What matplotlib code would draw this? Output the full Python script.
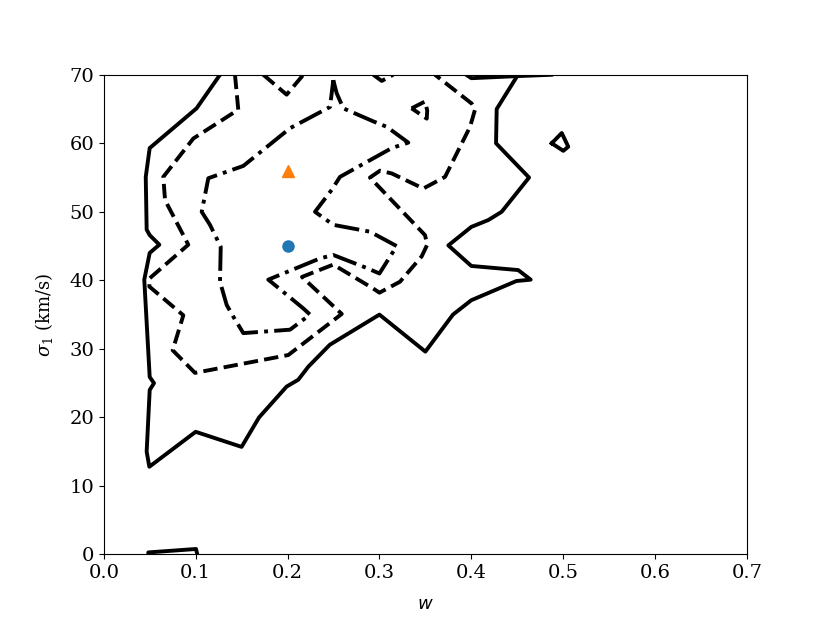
import matplotlib
matplotlib.use("Agg")
import matplotlib.pyplot as plt

plt.rcParams['font.family'] = ['DejaVu Serif']
plt.rcParams['mathtext.fontset'] = 'dejavuserif'
plt.rcParams['font.size'] = 14

# Contour level 1 (outer, solid)
outer_x = [0.1265, 0.101, 0.050, 0.0457, 0.0467, 0.050, 0.0605, 0.050, 0.0441, 0.050,
           0.0547, 0.050, 0.0467, 0.0496, 0.100, 0.150, 0.169, 0.199, 0.2117, 0.2226,
           0.246, 0.300, 0.350, 0.380, 0.400, 0.449, 0.4646, 0.451, 0.400, 0.375,
           0.400, 0.4185, 0.433, 0.4628, 0.4269, 0.4276, 0.4494]
outer_y = [70.0, 65.1, 59.3, 55.1, 47.4, 46.6, 45.2, 44.0, 40.1, 25.9,
           25.0, 24.0, 15.0, 12.8, 17.9, 15.7, 20.0, 24.5, 25.5, 27.4,
           30.6, 35.0, 29.6, 35.0, 37.1, 39.9, 40.1, 41.5, 42.1, 45.1,
           47.8, 48.8, 50.0, 55.0, 60.0, 65.0, 69.7]
outer_top_x = [0.3945, 0.400, 0.4494, 0.487]
outer_top_y = [70.0, 69.5, 69.8, 70.0]
island_x = [0.4875, 0.4984, 0.5055, 0.5001, 0.4875]
island_y = [60.0, 61.5, 59.5, 58.9, 60.0]
bottom_x = [0.0485, 0.0485, 0.1004, 0.1018]
bottom_y = [0.0, 0.3, 0.8, 0.0]

# Contour level 2 (dashed)
mid_x = [0.1428, 0.1464, 0.0975, 0.0648, 0.0667, 0.092, 0.050, 0.0496, 0.0866, 0.075,
         0.0993, 0.2008, 0.259, 0.2157, 0.2498, 0.2933, 0.300, 0.3224, 0.346, 0.352,
         0.3496, 0.2897, 0.3006, 0.3134, 0.3478, 0.3714, 0.3986, 0.404, 0.4004, 0.3605]
mid_y = [70.0, 64.9, 60.7, 55.1, 51.7, 45.2, 40.3, 39.1, 34.9, 29.8,
         26.5, 29.1, 35.1, 40.5, 42.3, 38.8, 38.2, 39.8, 43.5, 45.2,
         46.6, 55.0, 56.0, 55.6, 53.4, 55.1, 62.4, 64.9, 65.8, 70.0]
mid_v1_x = [0.1736, 0.199, 0.2172]
mid_v1_y = [70.0, 67.1, 70.0]
mid_v2_x = [0.2933, 0.3025, 0.315]
mid_v2_y = [70.0, 69.1, 70.0]
mid_loop_x = [0.335, 0.3496, 0.352, 0.3515, 0.335]
mid_loop_y = [65.1, 66.1, 64.8, 63.6, 65.1]

# Contour level 3 (dash-dot)
inner_x = [0.2498, 0.2535, 0.2607, 0.2933, 0.308, 0.3314, 0.3134, 0.2571, 0.248, 0.2299,
           0.2498, 0.2897, 0.3188, 0.300, 0.2862, 0.2498, 0.2353, 0.179, 0.1828, 0.2172,
           0.2245, 0.2027, 0.1519, 0.141, 0.1338, 0.1265, 0.1273, 0.1156, 0.1066, 0.1138,
           0.1519, 0.2027, 0.2462, 0.2498]
inner_y = [69.2, 67.3, 65.1, 63.2, 62.4, 60.1, 59.3, 55.1, 53.2, 50.0,
           48.1, 47.1, 45.0, 41.0, 41.8, 43.7, 43.2, 40.1, 39.7, 35.9,
           35.0, 32.8, 32.3, 34.7, 36.4, 39.8, 44.9, 48.1, 50.0, 54.9,
           56.7, 62.2, 65.3, 69.2]

# Points
circle_w, circle_s = [0.2], [45.0]
tri_w, tri_s = [0.2], [56.0]

fig, ax = plt.subplots(figsize=(8.3, 6.23), dpi=100)
lw = 2.8
for xs, ys in [(outer_x, outer_y), (outer_top_x, outer_top_y), (island_x, island_y), (bottom_x, bottom_y)]:
    ax.plot(xs, ys, color='black', lw=lw, linestyle='-')
for xs, ys in [(mid_x, mid_y), (mid_v1_x, mid_v1_y), (mid_v2_x, mid_v2_y), (mid_loop_x, mid_loop_y)]:
    ax.plot(xs, ys, color='black', lw=lw, linestyle='--')
ax.plot(inner_x, inner_y, color='black', lw=lw, linestyle='-.')

ax.plot(circle_w, circle_s, 'o', color='#1f77b4', markersize=8)
ax.plot(tri_w, tri_s, '^', color='#ff7f0e', markersize=8)

ax.set_xlim(0, 0.7)
ax.set_ylim(0, 70)
ax.tick_params(labelsize=14)
ax.set_xlabel(r'$w$', fontsize=13, labelpad=9, math_fontfamily='dejavusans')
ax.set_ylabel(r'$\sigma_1$ (km/s)', fontsize=13, labelpad=10)
fig.savefig('out.png', dpi=100)
